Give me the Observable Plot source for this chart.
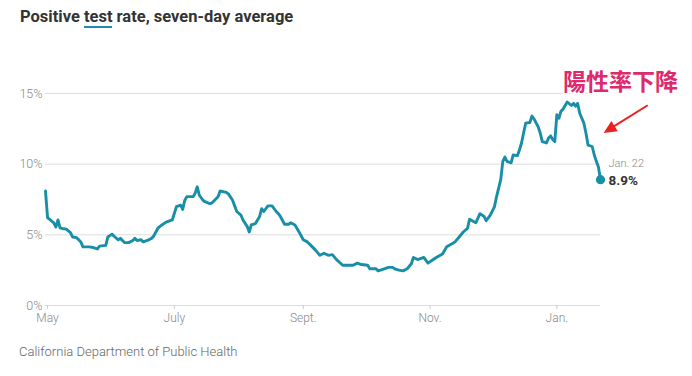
<!DOCTYPE html>
<html><head><meta charset="utf-8">
<script src="https://cdn.jsdelivr.net/npm/d3@7"></script>
<script src="https://cdn.jsdelivr.net/npm/@observablehq/plot@0.6"></script>
<style>
body{margin:0;background:#fff;}
#wrap{position:relative;width:692px;height:376px;overflow:hidden;font-family:Roboto,sans-serif;background:#fff;}
#title{position:absolute;left:20px;top:6px;font-size:16.5px;font-weight:700;color:#333;line-height:22px;white-space:nowrap;}
#title .u{border-bottom:2.5px solid #1a8fa6;}
#chart{position:absolute;left:0;top:40px;}
#caption{position:absolute;left:19px;top:344px;font-size:13px;color:#666;font-weight:300;white-space:nowrap;}
</style></head>
<body><div id="wrap">
<div id="title">Positive <span class="u">test</span> rate, seven-day average</div>
<div id="chart"></div>
<div id="caption">California Department of Public Health</div>
</div>
<script>
const dates = ["2020-04-30","2020-05-01","2020-05-02","2020-05-04","2020-05-05","2020-05-06","2020-05-07","2020-05-08","2020-05-10","2020-05-12","2020-05-13","2020-05-15","2020-05-17","2020-05-18","2020-05-21","2020-05-23","2020-05-25","2020-05-26","2020-05-29","2020-05-30",
"2020-06-01","2020-06-02","2020-06-04","2020-06-05","2020-06-07","2020-06-09","2020-06-11","2020-06-12","2020-06-13","2020-06-15","2020-06-16","2020-06-18","2020-06-20","2020-06-21","2020-06-23","2020-06-25","2020-06-27","2020-06-29","2020-06-30",
"2020-07-02","2020-07-04","2020-07-05","2020-07-06","2020-07-07","2020-07-10","2020-07-11","2020-07-12","2020-07-13","2020-07-15","2020-07-18","2020-07-19","2020-07-20","2020-07-22","2020-07-23","2020-07-26","2020-07-27","2020-07-29","2020-07-31",
"2020-08-02","2020-08-03","2020-08-05","2020-08-06","2020-08-07","2020-08-09","2020-08-11","2020-08-12","2020-08-13","2020-08-15","2020-08-17","2020-08-19","2020-08-20","2020-08-21","2020-08-23","2020-08-25","2020-08-26","2020-08-28","2020-08-30",
"2020-09-01","2020-09-03","2020-09-05","2020-09-07","2020-09-09","2020-09-11","2020-09-13","2020-09-15","2020-09-17","2020-09-20","2020-09-22","2020-09-25","2020-09-27","2020-09-29",
"2020-10-02","2020-10-03","2020-10-06","2020-10-07","2020-10-10","2020-10-12","2020-10-14","2020-10-15","2020-10-17","2020-10-19","2020-10-21","2020-10-23","2020-10-24","2020-10-26","2020-10-27","2020-10-29","2020-10-31",
"2020-11-02","2020-11-04","2020-11-07","2020-11-09","2020-11-12","2020-11-13","2020-11-15","2020-11-17","2020-11-19","2020-11-20","2020-11-23","2020-11-25","2020-11-27","2020-11-28","2020-11-30",
"2020-12-02","2020-12-03","2020-12-05","2020-12-06","2020-12-07","2020-12-08","2020-12-10","2020-12-11","2020-12-13","2020-12-14","2020-12-15","2020-12-16","2020-12-17","2020-12-19","2020-12-20","2020-12-21","2020-12-23","2020-12-24","2020-12-25","2020-12-27","2020-12-28","2020-12-29","2020-12-30","2020-12-31",
"2021-01-01","2021-01-02","2021-01-03","2021-01-04","2021-01-06","2021-01-08","2021-01-09","2021-01-10","2021-01-11","2021-01-12","2021-01-14","2021-01-15","2021-01-16","2021-01-18","2021-01-19","2021-01-20","2021-01-21","2021-01-22"];
const rates = [8.1,6.2,6.1,5.85,5.55,6.05,5.5,5.45,5.4,5.15,4.85,4.8,4.5,4.15,4.15,4.1,4.0,4.2,4.25,4.85,
5.05,4.9,4.65,4.75,4.45,4.45,4.6,4.75,4.6,4.65,4.5,4.6,4.75,4.9,5.45,5.7,5.9,6.0,6.05,
7.0,7.1,6.8,7.45,7.7,7.7,7.95,8.4,7.8,7.4,7.2,7.25,7.4,7.7,8.1,8.0,7.9,7.45,6.65,
6.4,6.05,5.6,5.2,5.7,5.8,6.3,6.85,6.65,7.05,7.05,6.65,6.5,6.3,5.75,5.75,5.85,5.7,5.2,
4.65,4.5,4.2,3.9,3.55,3.7,3.55,3.6,3.25,2.85,2.85,2.85,3.0,2.9,
2.85,2.6,2.6,2.45,2.6,2.7,2.7,2.6,2.5,2.45,2.6,2.95,3.4,3.25,3.3,3.4,3.0,
3.2,3.4,3.65,4.15,4.4,4.5,4.85,5.2,5.45,6.1,5.85,6.5,6.3,6.0,6.4,
7.0,7.7,8.9,10.2,10.5,10.2,10.1,10.65,10.6,11.0,11.5,12.2,12.9,12.95,13.4,13.2,12.65,12.2,11.6,11.5,11.85,12.0,11.75,11.6,
13.5,13.25,13.75,13.9,14.4,14.15,14.3,14.1,14.3,13.6,12.9,12.2,11.35,11.25,10.65,10.2,9.8,8.9];
const xTickDates = ["2020-05-01","2020-07-01","2020-09-01","2020-11-01","2021-01-01"];
const xTickLabels = ["May","July","Sept.","Nov.","Jan."];
const yTicks = [0,5,10,15];
const endDateLabel = "Jan. 22";
const annotationText = "陽性率下降";

const parse = d3.utcParse("%Y-%m-%d");
const parseT = d3.utcParse("%Y-%m-%dT%H:%M");
const data = dates.map((d, i) => ({date: parse(d), rate: rates[i]}));
const last = data[data.length - 1];
const labelMap = new Map(xTickDates.map((d, i) => [+parse(d), xTickLabels[i]]));
const teal = "#188fa7";
const red = "#e8231f";

// narrow filled arrowhead with its tip at the symbol origin, pointing up
const headSymbol = {
  draw(context) {
    const L = 13, w = 12;
    context.moveTo(0, 0);
    context.lineTo(-w / 2, L);
    context.lineTo(w / 2, L);
    context.closePath();
  }
};
const arrowTail = {date: parseT("2021-02-13T17:00"), rate: 14.17};
const arrowBase = {date: parseT("2021-01-28T10:00"), rate: 12.67};
const arrowTip = {date: parseT("2021-01-23T12:00"), rate: 12.2};
const note = {date: parseT("2021-01-31T14:00"), rate: 15.77, text: annotationText};

const chart = Plot.plot({
  width: 692, height: 295,
  marginLeft: 45, marginRight: 92, marginTop: 53, marginBottom: 30,
  style: {fontFamily: "Roboto", fontSize: "12px", color: "#888", background: "transparent", overflow: "visible"},
  x: {type: "utc", domain: [parse("2020-04-30"), parse("2021-01-22")]},
  y: {domain: [0, 15]},
  marks: [
    Plot.ruleY(yTicks, {stroke: "#ddd", strokeWidth: 1}),
    Plot.axisY(yTicks, {tickSize: 0, tickPadding: 3, tickFormat: d => d + "%", label: null, fontWeight: 300, fontSize: 12.5}),
    Plot.axisX(xTickDates.map(parse), {tickSize: 4, stroke: "#ccc", tickFormat: d => labelMap.get(+d), label: null, fontWeight: 300, fontSize: 12, tickPadding: 4}),
    Plot.line(data, {x: "date", y: "rate", stroke: teal, strokeWidth: 2.9, strokeLinejoin: "round", strokeLinecap: "round"}),
    Plot.dot([last], {x: "date", y: "rate", r: 4.6, fill: teal}),
    Plot.text([last], {x: "date", y: "rate", text: () => endDateLabel, dx: 8, dy: -16, textAnchor: "start", fill: "#888", fontSize: 11, fontWeight: 300}),
    Plot.text([last], {x: "date", y: "rate", text: d => d3.format(".1f")(d.rate) + "%", dx: 8, dy: 1, textAnchor: "start", fill: "#333", fontSize: 13.5, fontWeight: "bold"}),
    Plot.link([{a: arrowTail, b: arrowBase}], {x1: d => d.a.date, y1: d => d.a.rate, x2: d => d.b.date, y2: d => d.b.rate, stroke: red, strokeWidth: 2}),
    Plot.dot([arrowTip], {x: "date", y: "rate", symbol: headSymbol, fill: red, stroke: "none", rotate: 237.8, r: 5}),
    Plot.text([note], {x: "date", y: "rate", text: "text", fill: "#dc2a6c", stroke: "white", strokeWidth: 4, paintOrder: "stroke", fontSize: 23, fontWeight: "bold", fontFamily: "Noto Sans CJK TC"})
  ]
});
document.getElementById("chart").appendChild(chart);
</script>
</body></html>
